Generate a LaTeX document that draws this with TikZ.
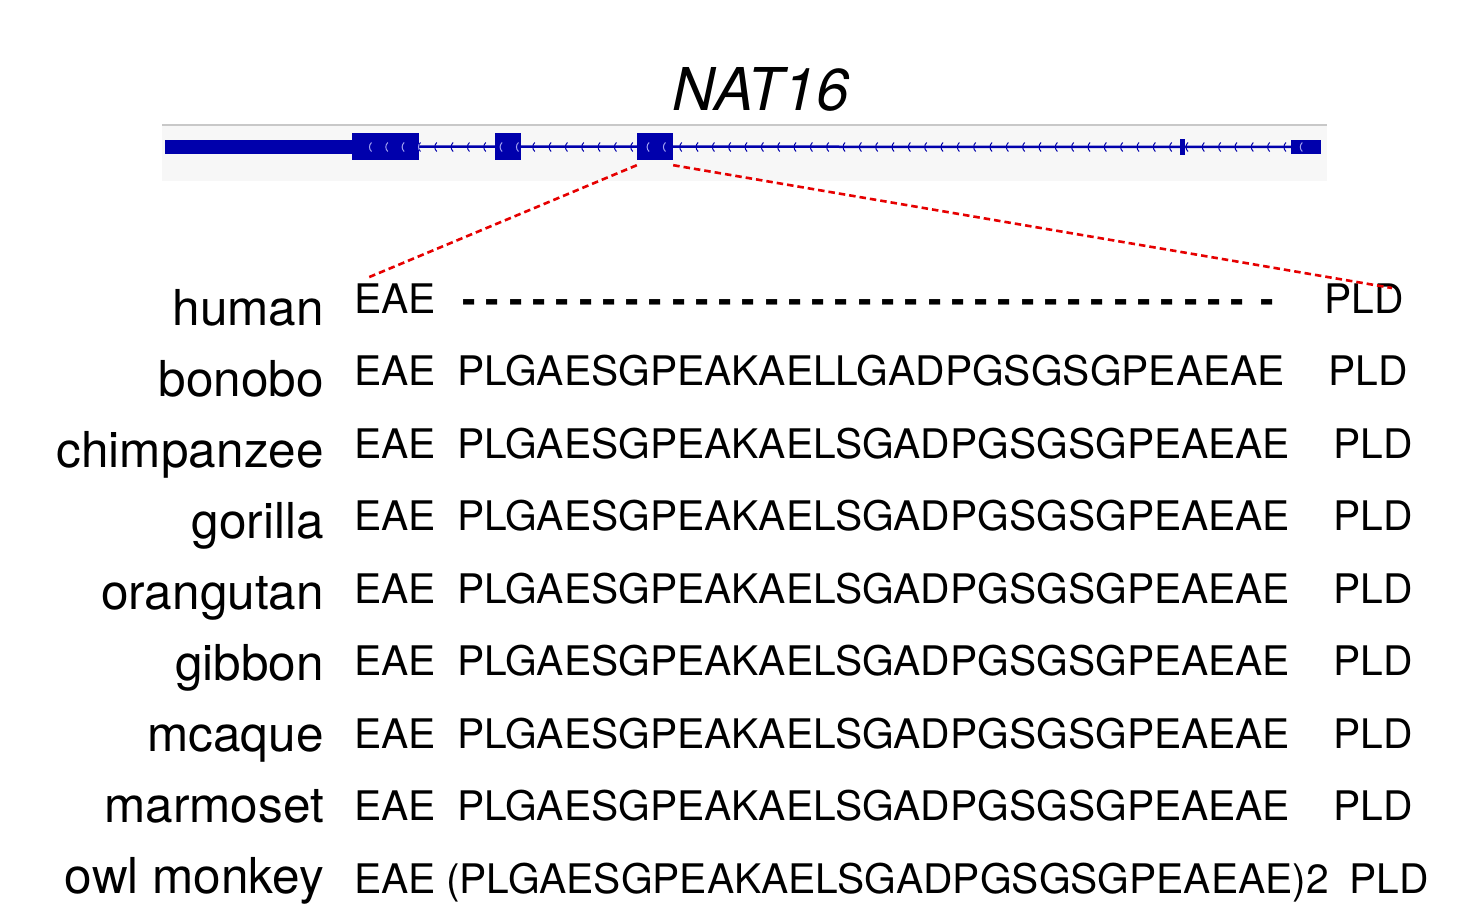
\documentclass[tikz,border=0pt]{standalone}
\usepackage{fontspec}
\setmainfont{TeX Gyre Heros}
\usetikzlibrary{calc}
\definecolor{geneblue}{RGB}{0,0,172}
\definecolor{marklight}{RGB}{160,160,240}
\definecolor{trackbg}{RGB}{247,247,247}
\definecolor{trackline}{RGB}{200,200,200}
\definecolor{zoomred}{RGB}{230,0,0}
\newcommand\hy{-\hspace{9.7pt}}
\begin{document}
\begin{tikzpicture}[x=1pt,y=-1pt,
  lab/.style={anchor=base east,inner sep=0,font=\fontsize{49.5}{50}\selectfont},
  seq/.style={anchor=base west,inner sep=0,font=\fontsize{40.75}{42}\selectfont},
  exon/.style={fill=geneblue,draw=none,inner sep=0,rectangle},
  chev/.style={line width=1pt},
  zoomline/.style={zoomred,line width=2.6pt,dash pattern=on 6.5pt off 4pt}]
\useasboundingbox (0,0) rectangle (1465,908);
\fill[white] (0,0) rectangle (1465,908);
% title
\node[anchor=base,inner sep=0,font=\fontsize{59}{60}\selectfont\itshape] (title) at (761,110) {NAT16};
% track background
\fill[trackbg] (162,126) rectangle (1327,181);
\draw[trackline,line width=2pt] (162,125) -- (1327,125);
% exons
\node[exon,minimum width=187pt,minimum height=14pt] (utr5) at (258.5,147) {};
\node[exon,minimum width=67pt,minimum height=27pt] (ex1) at (385.5,146.5) {};
\node[exon,minimum width=26pt,minimum height=27pt] (ex2) at (508,146.5) {};
\node[exon,minimum width=36pt,minimum height=27pt] (ex3) at (655,146.5) {};
\node[exon,minimum width=5pt,minimum height=16pt] (ex4) at (1182,147) {};
\node[exon,minimum width=30pt,minimum height=14pt] (utr3) at (1306,147) {};
% intron line
\draw[geneblue,line width=2.5pt] (ex1.center) -- (utr3.center);
% direction marks
\foreach \i in {0,...,57}{
  \pgfmathsetmacro\mx{370+16.33*\i}
  \draw[geneblue,chev] (\mx+1.5,142.5) .. controls (\mx-1.2,145) and (\mx-1.2,149) .. (\mx+1.5,151.5);
}
\begin{scope}
  \clip (ex1.north west) rectangle (ex1.south east)
        (ex2.north west) rectangle (ex2.south east)
        (ex3.north west) rectangle (ex3.south east)
        (utr3.north west) rectangle (utr3.south east);
  \foreach \i in {0,...,57}{
    \pgfmathsetmacro\mx{370+16.33*\i}
    \draw[marklight,chev] (\mx+1.5,142.5) .. controls (\mx-1.2,145) and (\mx-1.2,149) .. (\mx+1.5,151.5);
  }
\end{scope}
% labels
\node[lab] (l0) at (324,325) {human};
\node[lab] (l1) at (324,396) {bonobo};
\node[lab] (l2) at (324,467) {chimpanzee};
\node[lab] (l3) at (324,538) {gorilla};
\node[lab] (l4) at (324,609) {orangutan};
\node[lab] (l5) at (324,680) {gibbon};
\node[lab] (l6) at (324,751) {mcaque};
\node[lab] (l7) at (324,822) {marmoset};
\node[lab] (l8) at (324,893) {owl monkey};
% EAE column
\foreach \i/\y in {0/313,1/385.5,2/458,3/530.5,4/603,5/675.5,6/748,7/820.5,8/893}{
  \node[seq] (e\i) at (354,\y) {EAE};
}
% middle column
\node[seq,font=\fontsize{40.75}{42}\selectfont\bfseries] (s0) at (462.5,313) {\hy\hy\hy\hy\hy\hy\hy\hy\hy\hy\hy\hy\hy\hy\hy\hy\hy\hy\hy\hy\hy\hy\hy\hy\hy\hy\hy\hy\hy\hy\hy\hy\hy-\hspace{16.4pt}-};
\node[seq] (s1) at (457,385.5) {PLGAESGPEAKAELLGADPGSGSGPEAEAE};
\foreach \i/\y in {2/458,3/530.5,4/603,5/675.5,6/748,7/820.5}{
  \node[seq] (s\i) at (457,\y) {PLGAESGPEAKAELSGADPGSGSGPEAEAE};
}
\node[seq] (s8) at (446,893) {(PLGAESGPEAKAELSGADPGSGSGPEAEAE)2};
% PLD column
\node[seq] (p0) at (1324,313) {PLD};
\node[seq] (p1) at (1328,385.5) {PLD};
\foreach \i/\y in {2/458,3/530.5,4/603,5/675.5,6/748,7/820.5}{
  \node[seq] (p\i) at (1333,\y) {PLD};
}
\node[seq] (p8) at (1349,893) {PLD};
% zoom lines
\coordinate (hl) at ($(e0.base west)+(13,-35)$);
\coordinate (hr) at ($(p0.base west)+(68,-25)$);
\draw[zoomline] ($(ex3.south west)+(0,5)$) -- (hl);
\draw[zoomline] ($(ex3.south east)+(0,5)$) -- (hr);
\end{tikzpicture}
\end{document}
